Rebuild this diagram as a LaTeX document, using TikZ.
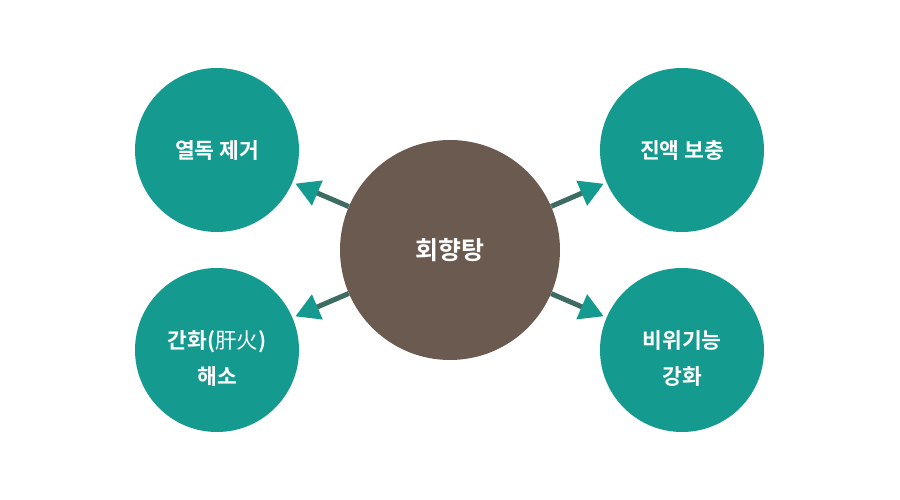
\documentclass[tikz,border=0pt]{standalone}
\usepackage{fontspec}
\newfontfamily\kr{Noto Sans CJK KR}[BoldFont={* Bold}]
\usetikzlibrary{arrows.meta}
\definecolor{teal1}{HTML}{149A8F}
\definecolor{brown1}{HTML}{6B5A4F}
\definecolor{linec}{HTML}{3E6B62}
\tikzset{
  sat/.style={circle, fill=teal1, minimum size=164pt, inner sep=0pt, text=white, align=center,
    font=\kr\bfseries\fontsize{21.5}{36}\selectfont},
  lbl/.style={text=white, align=center, inner sep=0pt,
    font=\kr\bfseries\fontsize{21.5}{36}\selectfont},
  hub/.style={circle, fill=brown1, minimum size=220pt, inner sep=0pt, text=white,
    font=\kr\bfseries\fontsize{25}{30}\selectfont},
  arr/.style={draw=linec, line width=5pt, shorten >=3pt,
    -{Triangle[length=24pt, width=26pt, color=teal1]}}
}
\begin{document}
\begin{tikzpicture}[x=1pt, y=-1pt]
\useasboundingbox (0,0) rectangle (900,500);
\node[hub] (c) at (450,250) {회향탕};
\node[sat] (tl) at (217,150) {열독 제거};
\node[sat] (tr) at (682,150) {진액 보충};
\node[sat] (bl) at (217,350) {};
\node[sat] (br) at (682,350) {};
\node[lbl] (blt) at ([yshift=-8pt]bl.center) {간화({\mdseries 肝火})\\해소};
\node[lbl] (brt) at ([yshift=-8pt]br.center) {비위기능\\강화};
\draw[arr] (c) -- (tl);
\draw[arr] (c) -- (tr);
\draw[arr] (c) -- (bl);
\draw[arr] (c) -- (br);
\end{tikzpicture}
\end{document}
